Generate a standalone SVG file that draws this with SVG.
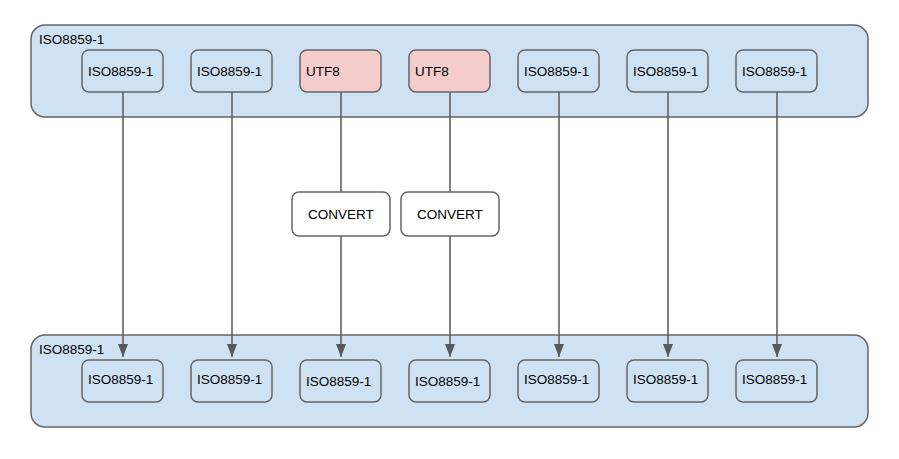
<svg xmlns="http://www.w3.org/2000/svg" width="899" height="459" viewBox="0 0 899 459">
<defs>
<style>
.cont{fill:#cfe2f3;stroke:#666666;stroke-width:1.5}
.node{fill:#cfe2f3;stroke:#666666;stroke-width:1.5}
.utf{fill:#f4cccc;stroke:#666666;stroke-width:1.5}
.conv{fill:#ffffff;stroke:#666666;stroke-width:1.5}
text{font-family:"Liberation Sans",Arial,sans-serif;font-size:13.5px;fill:#000}
.edge{stroke:#595959;stroke-width:1.5;fill:none}
</style>
<marker id="arr" viewBox="0 0 13 10" refX="13" refY="5" markerWidth="13" markerHeight="10" markerUnits="userSpaceOnUse" orient="auto">
<path d="M0,0 L13,5 L0,10 z" fill="#595959"/>
</marker>
</defs>
<rect width="899" height="459" fill="#ffffff"/>
<g id="top-container"><rect class="cont" x="31" y="25" width="837" height="92" rx="14"/><text x="39" y="44">ISO8859-1</text></g>
<g id="bottom-container"><rect class="cont" x="31" y="335" width="837" height="92" rx="14"/><text x="39" y="354">ISO8859-1</text></g>
<g id="connectors">
<path class="edge" d="M123,92 V357" marker-end="url(#arr)"/>
<path class="edge" d="M232,92 V357" marker-end="url(#arr)"/>
<path class="edge" d="M341,92 V192"/>
<path class="edge" d="M341,236 V357" marker-end="url(#arr)"/>
<path class="edge" d="M450,92 V192"/>
<path class="edge" d="M450,236 V357" marker-end="url(#arr)"/>
<path class="edge" d="M559,92 V357" marker-end="url(#arr)"/>
<path class="edge" d="M668,92 V357" marker-end="url(#arr)"/>
<path class="edge" d="M777,92 V357" marker-end="url(#arr)"/>
</g>
<g id="t1"><rect class="node" x="82" y="50" width="81" height="42" rx="7"/><text x="88" y="76">ISO8859-1</text></g>
<g id="t2"><rect class="node" x="191" y="50" width="81" height="42" rx="7"/><text x="197" y="76">ISO8859-1</text></g>
<g id="t3"><rect class="utf" x="300" y="50" width="81" height="42" rx="7"/><text x="306" y="76">UTF8</text></g>
<g id="t4"><rect class="utf" x="409" y="50" width="81" height="42" rx="7"/><text x="415" y="76">UTF8</text></g>
<g id="t5"><rect class="node" x="518" y="50" width="81" height="42" rx="7"/><text x="524" y="76">ISO8859-1</text></g>
<g id="t6"><rect class="node" x="627" y="50" width="81" height="42" rx="7"/><text x="633" y="76">ISO8859-1</text></g>
<g id="t7"><rect class="node" x="736" y="50" width="81" height="42" rx="7"/><text x="742" y="76">ISO8859-1</text></g>
<g id="c1"><rect class="conv" x="292" y="192" width="98" height="44" rx="7"/><text x="341" y="219" text-anchor="middle">CONVERT</text></g>
<g id="c2"><rect class="conv" x="401" y="192" width="98" height="44" rx="7"/><text x="450" y="219" text-anchor="middle">CONVERT</text></g>
<g id="b1"><rect class="node" x="82" y="360" width="81" height="42" rx="7"/><text x="88" y="384">ISO8859-1</text></g>
<g id="b2"><rect class="node" x="191" y="360" width="81" height="42" rx="7"/><text x="197" y="384">ISO8859-1</text></g>
<g id="b3"><rect class="node" x="300" y="360" width="81" height="42" rx="7"/><text x="306" y="386">ISO8859-1</text></g>
<g id="b4"><rect class="node" x="409" y="360" width="81" height="42" rx="7"/><text x="415" y="386">ISO8859-1</text></g>
<g id="b5"><rect class="node" x="518" y="360" width="81" height="42" rx="7"/><text x="524" y="384">ISO8859-1</text></g>
<g id="b6"><rect class="node" x="627" y="360" width="81" height="42" rx="7"/><text x="633" y="384">ISO8859-1</text></g>
<g id="b7"><rect class="node" x="736" y="360" width="81" height="42" rx="7"/><text x="742" y="384">ISO8859-1</text></g>
</svg>
